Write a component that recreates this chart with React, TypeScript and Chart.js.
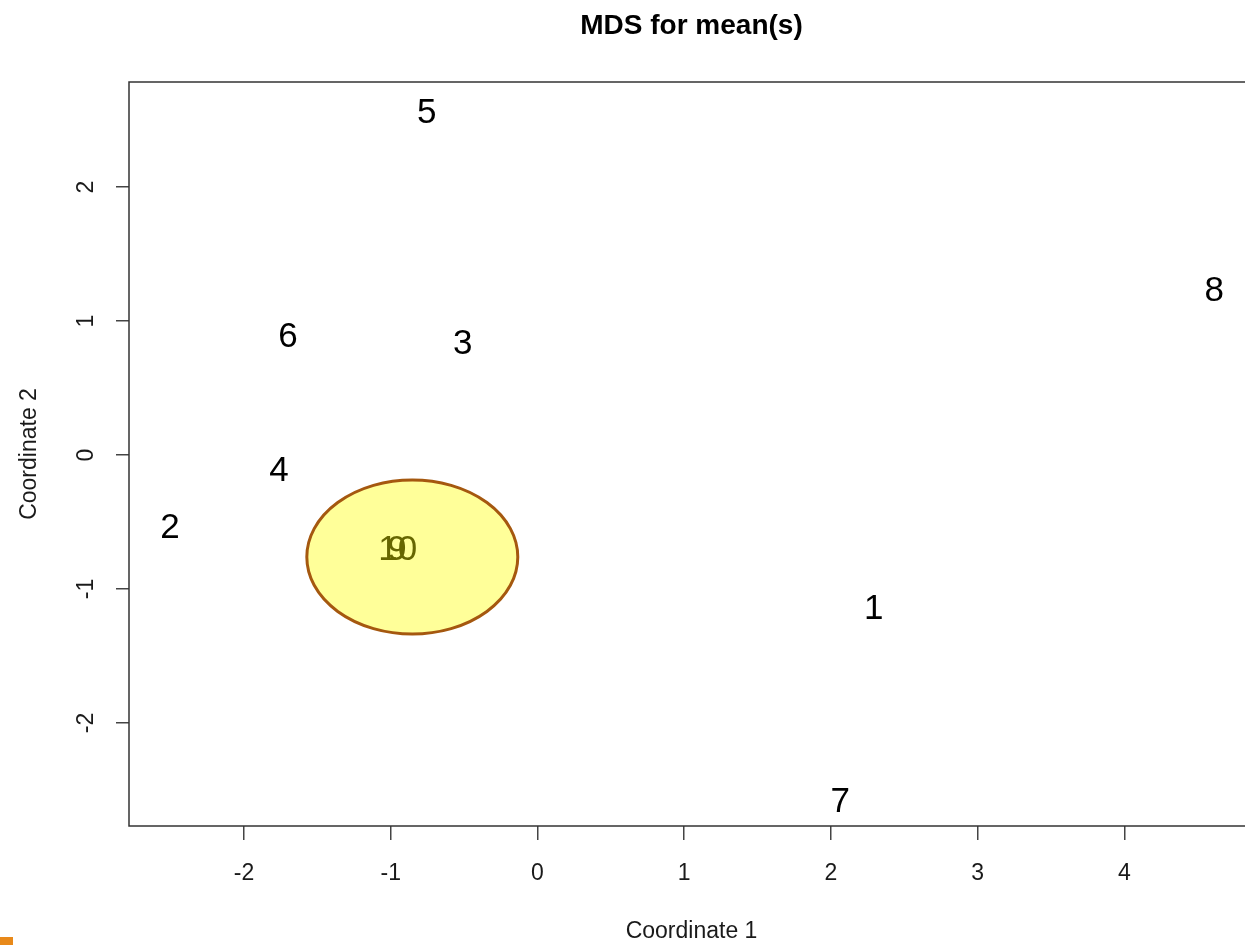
import React, { useEffect, useRef } from "react";
import { Chart, registerables } from "chart.js";

Chart.register(...registerables);

const pointLabels = ["1", "2", "3", "4", "5", "6", "7", "8", "9", "10"];
const coord1 = [2.292, -2.504, -0.509, -1.761, -0.755, -1.7, 2.063, 4.613, -0.958, -0.952];
const coord2 = [-1.134, -0.53, 0.843, -0.104, 2.567, 0.896, -2.575, 1.239, -0.694, -0.694];

const xTicks = [-2, -1, 0, 1, 2, 3, 4];
const yTicks = [-2, -1, 0, 1, 2];
const xRange = [-2.784, 4.884];
const yRange = [-2.769, 2.784];

// highlighted cluster ellipse (center and radii in data units)
const ellipseCenter = [-0.853, -0.761];
const ellipseRadii = [0.719, 0.575];

const FONT = "'Liberation Sans', Arial, Helvetica, sans-serif";

const textPlugin = {
  id: "mdsText",
  afterDatasetsDraw(chart: any) {
    const { ctx, chartArea, scales } = chart;
    const meta = chart.getDatasetMeta(0);
    ctx.save();
    ctx.font = `35px ${FONT}`;
    ctx.fillStyle = "#000";
    ctx.textAlign = "center";
    ctx.textBaseline = "middle";
    meta.data.forEach((el: any, i: number) => {
      ctx.fillText(pointLabels[i], el.x, el.y + 2);
    });
    // ellipse
    const cx = scales.x.getPixelForValue(ellipseCenter[0]);
    const cy = scales.y.getPixelForValue(ellipseCenter[1]);
    const rx = Math.abs(scales.x.getPixelForValue(ellipseCenter[0] + ellipseRadii[0]) - cx);
    const ry = Math.abs(scales.y.getPixelForValue(ellipseCenter[1] + ellipseRadii[1]) - cy);
    ctx.beginPath();
    ctx.ellipse(cx, cy, rx, ry, 0, 0, Math.PI * 2);
    ctx.fillStyle = "rgba(255,255,0,0.4)";
    ctx.fill();
    ctx.lineWidth = 3;
    ctx.strokeStyle = "#a5580f";
    ctx.stroke();
    // box
    ctx.lineWidth = 1.5;
    ctx.strokeStyle = "#333";
    ctx.strokeRect(chartArea.left, chartArea.top, chartArea.right - chartArea.left, chartArea.bottom - chartArea.top);
    ctx.restore();
  },
};

export default function App() {
  const ref = useRef<HTMLCanvasElement>(null);
  useEffect(() => {
    if (!ref.current) return;
    const chart = new Chart(ref.current, {
      type: "scatter",
      data: {
        datasets: [
          {
            data: coord1.map((x, i) => ({ x, y: coord2[i] })),
            pointRadius: 0,
            pointHoverRadius: 0,
          },
        ],
      },
      options: {
        responsive: false,
        animation: false,
        layout: { padding: { top: 0, right: 8, left: 0, bottom: 0 } },
        plugins: {
          legend: { display: false },
          tooltip: { enabled: false },
          title: {
            display: true,
            text: "MDS for mean(s)",
            fullSize: false,
            color: "#000",
            font: { size: 28, weight: "bold", family: FONT },
            padding: { top: 9, bottom: 39.4 },
          },
        },
        scales: {
          x: {
            type: "linear",
            min: xRange[0],
            max: xRange[1],
            afterBuildTicks: (s: any) => {
              s.ticks = xTicks.map((v) => ({ value: v }));
            },
            afterFit: (s: any) => {
              s.height = 119;
            },
            grid: { drawOnChartArea: false, drawTicks: true, tickLength: 14, color: "#444", lineWidth: 1.5 },
            border: { display: false },
            ticks: {
              font: { size: 23, family: FONT },
              color: "#1a1a1a",
              padding: 20,
              maxRotation: 0,
              autoSkip: false,
              callback: (v: any) => String(v),
            },
            title: {
              display: true,
              text: "Coordinate 1",
              color: "#1a1a1a",
              font: { size: 23, family: FONT },
              padding: { top: 0, bottom: 0 },
            },
          },
          y: {
            type: "linear",
            min: yRange[0],
            max: yRange[1],
            afterBuildTicks: (s: any) => {
              s.ticks = yTicks.map((v) => ({ value: v }));
            },
            afterFit: (s: any) => {
              s.width = 129;
            },
            grid: { drawOnChartArea: false, drawTicks: true, tickLength: 13, color: "#444", lineWidth: 1.5 },
            border: { display: false },
            ticks: {
              font: { size: 23, family: FONT },
              color: "#1a1a1a",
              padding: 19,
              minRotation: 90,
              maxRotation: 90,
              crossAlign: "center",
              autoSkip: false,
              callback: (v: any) => String(v),
            },
            title: {
              display: true,
              text: "Coordinate 2",
              color: "#1a1a1a",
              font: { size: 23, family: FONT },
              padding: { top: 16, bottom: 0 },
            },
          },
        },
      },
      plugins: [textPlugin],
    } as any);
    return () => chart.destroy();
  }, []);

  return (
    <div style={{ position: "fixed", left: 0, top: 0, width: 1245, height: 945, overflow: "hidden", background: "#fff" }}>
      <canvas ref={ref} width={1262} height={945} style={{ display: "block", width: 1262, height: 945 }} />
      <div style={{ position: "absolute", left: 0, top: 937, width: 13, height: 8, background: "#e8891a" }} />
    </div>
  );
}
